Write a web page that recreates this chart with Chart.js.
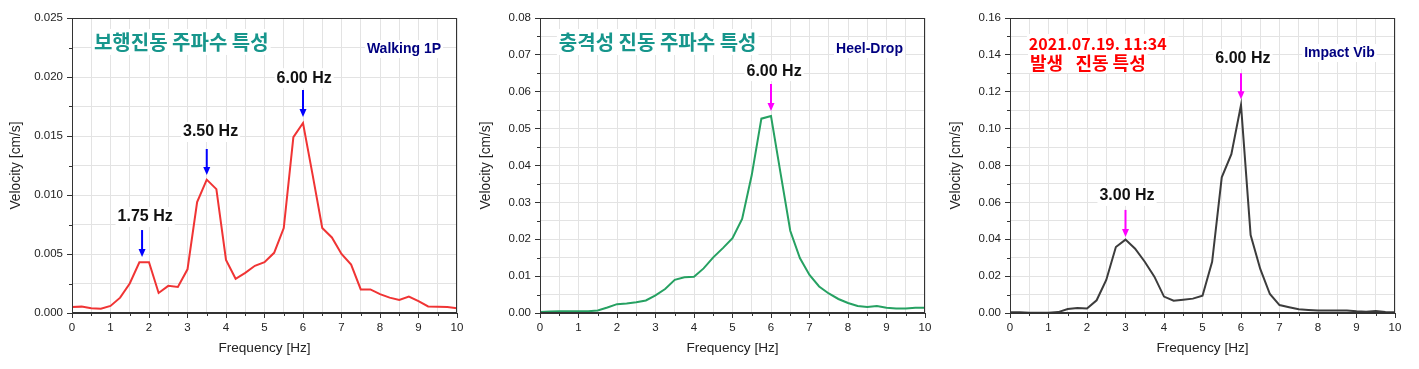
<!DOCTYPE html>
<html>
<head>
<meta charset="utf-8">
<title>진동 주파수 특성</title>
<script src="https://cdn.jsdelivr.net/npm/chart.js"></script>
<style>
    body { margin: 0; background: #fff; }
    canvas { position: absolute; top: 0; }
</style>
</head>
<body>
<canvas id="walkChart" style="left:0px" width="470" height="369"></canvas>
<canvas id="heelChart" style="left:470px" width="470" height="369"></canvas>
<canvas id="impactChart" style="left:940px" width="479" height="369"></canvas>

<script>
    // frequency [Hz], 0.25 Hz steps
    const freq = [0, 0.25, 0.5, 0.75, 1, 1.25, 1.5, 1.75, 2, 2.25, 2.5, 2.75, 3, 3.25, 3.5, 3.75,
        4, 4.25, 4.5, 4.75, 5, 5.25, 5.5, 5.75, 6, 6.25, 6.5, 6.75, 7, 7.25, 7.5, 7.75,
        8, 8.25, 8.5, 8.75, 9, 9.25, 9.5, 9.75, 10];

    // velocity [cm/s]
    const walkVel = [0.0005, 0.00054, 0.0004, 0.00037, 0.0006, 0.0013, 0.0025, 0.0043, 0.0043, 0.0017,
        0.0023, 0.0022, 0.0037, 0.0094, 0.0113, 0.0105, 0.0045, 0.0029, 0.0034, 0.0040,
        0.0043, 0.0051, 0.0072, 0.0149, 0.0161, 0.0117, 0.0072, 0.0064, 0.0050, 0.0041,
        0.0020, 0.0020, 0.0016, 0.0013, 0.0011, 0.0014, 0.0010, 0.00056, 0.00054, 0.0005, 0.0004];

    const heelVel = [0.0003, 0.0004, 0.0005, 0.0005, 0.0005, 0.0005, 0.0007, 0.0015, 0.0024, 0.0026,
        0.0029, 0.0034, 0.0048, 0.0065, 0.0090, 0.0097, 0.0098, 0.0121, 0.0151, 0.0176,
        0.0203, 0.0255, 0.0374, 0.0527, 0.0534, 0.0378, 0.0223, 0.0149, 0.0103, 0.0072,
        0.0053, 0.0038, 0.0027, 0.0019, 0.0016, 0.0019, 0.0014, 0.0012, 0.0012, 0.0014, 0.0014];

    const impactVel = [0.0004, 0.0004, 0.0002, 0.0002, 0.0002, 0.0005, 0.0022, 0.0027, 0.0024, 0.0069,
        0.0179, 0.0358, 0.0398, 0.0349, 0.0278, 0.0197, 0.0089, 0.0067, 0.0072, 0.0078,
        0.0094, 0.0278, 0.0736, 0.0861, 0.1128, 0.0423, 0.0239, 0.0103, 0.0043, 0.0031,
        0.0020, 0.0016, 0.0013, 0.0013, 0.0014, 0.0013, 0.0009, 0.0007, 0.0011, 0.0005, 0.0004];

    const FONT = "'Liberation Sans', Arial, sans-serif";
    const KFONT = "'Noto Sans CJK KR', sans-serif";

    // frame, minor ticks, texts and arrows
    const decor = {
        id: 'decor',
        beforeDatasetsDraw(chart, args, opts) {
            const {ctx} = chart;
            ctx.save();
            (opts.texts || []).forEach(t => {
                const px = chart.scales.x.getPixelForValue(t.x);
                const py = chart.scales.y.getPixelForValue(t.y);
                ctx.font = t.font;
                ctx.textBaseline = 'middle';
                ctx.textAlign = t.align || 'left';
                const w = ctx.measureText(t.text).width;
                const x0 = t.align === 'center' ? px - w / 2 : px;
                ctx.fillStyle = '#fff';
                ctx.fillRect(x0 - 2, py - t.h / 2, w + 4, t.h);
                ctx.fillStyle = t.color;
                ctx.fillText(t.text, px, py);
            });
            ctx.restore();
        },
        afterDraw(chart, args, opts) {
            const {ctx, chartArea: a, scales: {x, y}} = chart;
            ctx.save();
            ctx.strokeStyle = '#333';
            ctx.lineWidth = 1;
            ctx.strokeRect(Math.round(a.left) + 0.5, Math.round(a.top) + 0.5,
                Math.round(a.right - a.left) - 1, Math.round(a.bottom - a.top) - 1);
            // minor ticks
            ctx.beginPath();
            x.ticks.forEach(t => {
                if (!Number.isInteger(t.value)) {
                    const px = Math.round(x.getPixelForValue(t.value)) + 0.5;
                    ctx.moveTo(px, a.bottom);
                    ctx.lineTo(px, a.bottom + 3);
                }
            });
            y.ticks.forEach(t => {
                if (Math.round(t.value / opts.yStep) % 2 !== 0) {
                    const py = Math.round(y.getPixelForValue(t.value)) + 0.5;
                    ctx.moveTo(a.left, py);
                    ctx.lineTo(a.left - 3, py);
                }
            });
            ctx.stroke();
            // arrows
            (opts.arrows || []).forEach(ar => {
                const px = x.getPixelForValue(ar.x);
                const p1 = y.getPixelForValue(ar.y1);
                const p2 = y.getPixelForValue(ar.y2);
                ctx.strokeStyle = opts.arrowColor;
                ctx.fillStyle = opts.arrowColor;
                ctx.lineWidth = 2;
                ctx.beginPath();
                ctx.moveTo(px, p1);
                ctx.lineTo(px, p2 - 6);
                ctx.stroke();
                ctx.beginPath();
                ctx.moveTo(px - 3.5, p2 - 8);
                ctx.lineTo(px + 3.5, p2 - 8);
                ctx.lineTo(px, p2);
                ctx.closePath();
                ctx.fill();
            });
            ctx.restore();
        }
    };

    function makeChart(id, values, color, yMax, yStep, decimals, plotLeft, padRight, notes) {
        return new Chart(document.getElementById(id), {
            type: 'line',
            data: {
                datasets: [{
                    data: freq.map((f, i) => ({x: f, y: values[i]})),
                    borderColor: color,
                    borderWidth: 2,
                    pointRadius: 0,
                    tension: 0
                }]
            },
            options: {
                responsive: false,
                animation: false,
                layout: { padding: { top: 18, right: padRight, left: 0, bottom: 0 } },
                plugins: {
                    legend: { display: false },
                    tooltip: { enabled: false },
                    decor: notes
                },
                scales: {
                    x: {
                        type: 'linear', min: 0, max: 10,
                        afterFit: s => { s.height = 56; },
                        ticks: {
                            stepSize: 0.5, autoSkip: false, maxRotation: 0, padding: 3,
                            color: '#222', font: { family: FONT, size: 11.5 },
                            callback: v => Number.isInteger(v) ? String(v) : ''
                        },
                        grid: {
                            color: '#e3e3e3', tickLength: 5,
                            tickColor: c => Number.isInteger(c.tick.value) ? '#333' : 'rgba(0,0,0,0)'
                        },
                        border: { color: '#333' },
                        title: {
                            display: true, text: 'Frequency [Hz]', color: '#222',
                            font: { family: FONT, size: 13.6 }, padding: { top: 0, bottom: 13 }
                        }
                    },
                    y: {
                        min: 0, max: yMax,
                        afterFit: s => { s.width = plotLeft; },
                        ticks: {
                            stepSize: yStep, autoSkip: false, padding: 4,
                            color: '#222', font: { family: FONT, size: 11.5 },
                            callback: v => Math.round(v / yStep) % 2 === 0 ? v.toFixed(decimals) : ''
                        },
                        grid: {
                            color: '#e3e3e3', tickLength: 5,
                            tickColor: c => Math.round(c.tick.value / yStep) % 2 === 0 ? '#333' : 'rgba(0,0,0,0)'
                        },
                        border: { color: '#333' },
                        title: {
                            display: true, text: 'Velocity [cm/s]', color: '#222',
                            font: { family: FONT, size: 13.8 }, padding: { top: 8, bottom: 0 }
                        }
                    }
                }
            },
            plugins: [decor]
        });
    }

    const peakFont = 'bold 16px ' + FONT;
    const tagFont = 'bold 14px ' + FONT;

    makeChart('walkChart', walkVel, '#f03434', 0.025, 0.0025, 3, 72, 13, {
        yStep: 0.0025,
        arrowColor: '#0000ff',
        texts: [
            {text: '보행진동 주파수 특성', x: 0.57, y: 0.02297, font: 'bold 20px ' + KFONT, color: '#17968c', h: 26},
            {text: 'Walking 1P', x: 7.66, y: 0.02237, font: tagFont, color: '#000080', h: 18},
            {text: '1.75 Hz', x: 1.9, y: 0.00814, font: peakFont, color: '#111', h: 20, align: 'center'},
            {text: '3.50 Hz', x: 3.6, y: 0.01534, font: peakFont, color: '#111', h: 20, align: 'center'},
            {text: '6.00 Hz', x: 6.03, y: 0.0199, font: peakFont, color: '#111', h: 20, align: 'center'}
        ],
        arrows: [
            {x: 1.82, y1: 0.00703, y2: 0.00475},
            {x: 3.5, y1: 0.0139, y2: 0.0117},
            {x: 6.0, y1: 0.0189, y2: 0.0166}
        ]
    });

    makeChart('heelChart', heelVel, '#26a162', 0.08, 0.005, 2, 70, 15, {
        yStep: 0.005,
        arrowColor: '#ff00ff',
        texts: [
            {text: '충격성 진동 주파수 특성', x: 0.49, y: 0.0735, font: 'bold 20px ' + KFONT, color: '#17968c', h: 26},
            {text: 'Heel-Drop', x: 7.69, y: 0.0716, font: tagFont, color: '#000080', h: 18},
            {text: '6.00 Hz', x: 6.08, y: 0.0656, font: peakFont, color: '#111', h: 20, align: 'center'}
        ],
        arrows: [
            {x: 6.0, y1: 0.0621, y2: 0.0548}
        ]
    });

    makeChart('impactChart', impactVel, '#3c3c3c', 0.16, 0.01, 2, 70, 24, {
        yStep: 0.01,
        arrowColor: '#ff00ff',
        texts: [
            {text: '2021.07.19. 11:34', x: 0.49, y: 0.1459, font: 'bold 16px ' + KFONT, color: '#ff0000', h: 20},
            {text: '발생   진동 특성', x: 0.52, y: 0.1356, font: 'bold 18px ' + KFONT, color: '#ff0000', h: 20},
            {text: 'Impact Vib', x: 7.64, y: 0.141, font: tagFont, color: '#000080', h: 18},
            {text: '3.00 Hz', x: 3.04, y: 0.0635, font: peakFont, color: '#111', h: 20, align: 'center'},
            {text: '6.00 Hz', x: 6.05, y: 0.1378, font: peakFont, color: '#111', h: 20, align: 'center'}
        ],
        arrows: [
            {x: 3.0, y1: 0.0559, y2: 0.0412},
            {x: 6.0, y1: 0.130, y2: 0.116}
        ]
    });
</script>
</body>
</html>
